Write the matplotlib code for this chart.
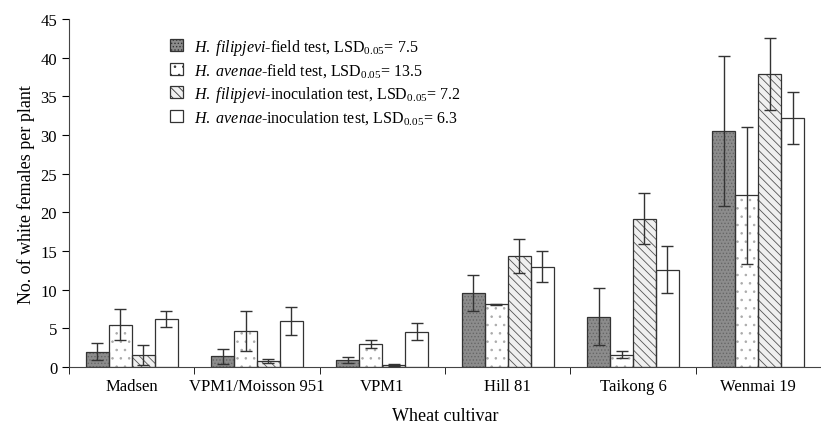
import numpy as np
import matplotlib
matplotlib.use('Agg')
import matplotlib.pyplot as plt
from matplotlib.patches import Patch

plt.rcParams['font.family'] = ['Liberation Serif', 'DejaVu Serif']
plt.rcParams['mathtext.fontset'] = 'custom'
plt.rcParams['mathtext.rm'] = 'Liberation Serif'
plt.rcParams['mathtext.it'] = 'Liberation Serif:italic'
plt.rcParams['hatch.linewidth'] = 0.6

cultivars = ["Madsen", "VPM1/Moisson 951", "VPM1", "Hill 81", "Taikong 6", "Wenmai 19"]

hf_field = [2.0, 1.4, 0.9, 9.6, 6.5, 30.5]
hf_field_err = [1.1, 1.0, 0.4, 2.3, 3.7, 9.7]
ha_field = [5.5, 4.7, 3.0, 8.1, 1.6, 22.2]
ha_field_err = [2.0, 2.6, 0.55, 0.1, 0.45, 8.9]
hf_inoc = [1.6, 0.8, 0.3, 14.4, 19.2, 37.9]
hf_inoc_err = [1.3, 0.25, 0.1, 2.2, 3.3, 4.7]
ha_inoc = [6.2, 6.0, 4.6, 13.0, 12.6, 32.2]
ha_inoc_err = [1.0, 1.8, 1.1, 2.0, 3.0, 3.4]

labels = [
    r"$\mathit{H.\ filipjevi}$-field test, LSD$_{0.05}$= 7.5",
    r"$\mathit{H.\ avenae}$-field test, LSD$_{0.05}$= 13.5",
    r"$\mathit{H.\ filipjevi}$-inoculation test, LSD$_{0.05}$= 7.2",
    r"$\mathit{H.\ avenae}$-inoculation test, LSD$_{0.05}$= 6.3",
]

# (values, errors, face colour, hatch, hatch colour)
series = [
    (hf_field, hf_field_err, '#8c8c8c', '.....', '#666666'),
    (ha_field, ha_field_err, 'white', '..', '#aaaaaa'),
    (hf_inoc, hf_inoc_err, '#f0f0f0', '\\\\\\\\', '#555555'),
    (ha_inoc, ha_inoc_err, 'white', '', 'white'),
]

fig = plt.figure(figsize=(8.21, 4.27), dpi=100)
ax = fig.add_axes([0.084, 0.138, 0.916, 0.815])

x = np.arange(len(cultivars))
w = 0.183
for i, (vals, err, fc, hatch, hc) in enumerate(series):
    pos = x + (i - 1.5) * w
    # hatch layer in its own colour, then the outline on top
    ax.bar(pos, vals, w, color=fc, edgecolor=hc, hatch=hatch, linewidth=0, zorder=2)
    ax.bar(pos, vals, w, fill=False, edgecolor='#333333', linewidth=0.9, zorder=2.5)
    ax.errorbar(pos, vals, yerr=err, fmt='none', ecolor='#333333',
                elinewidth=1.0, capsize=4, capthick=1.0, zorder=3)

handles = [Patch(facecolor=s[2], edgecolor='#333333', hatch=s[3], linewidth=0.9)
           for s in series]

ax.set_xlim(-0.5, 5.43)
ax.set_ylim(0, 45)
ax.set_yticks(range(0, 46, 5))
ax.set_xticks(x)
ax.set_xticklabels(cultivars, fontsize=12)
ax.set_xticks(np.arange(-0.5, 6, 1), minor=True)
ax.tick_params(axis='x', which='major', length=0, pad=8)
ax.tick_params(axis='x', which='minor', length=5, direction='out')
ax.tick_params(axis='y', labelsize=12, length=5)
for s in ['top', 'right']:
    ax.spines[s].set_visible(False)
ax.spines['left'].set_color('#444444')
ax.spines['bottom'].set_color('#444444')

ax.set_ylabel("No. of white females per plant", fontsize=13)
ax.set_xlabel("Wheat cultivar", fontsize=13, labelpad=9)

ax.legend(handles, labels, loc='upper left', bbox_to_anchor=(0.115, 0.99), frameon=False,
          fontsize=11.5, handlelength=0.8, handleheight=0.8, labelspacing=0.28,
          handletextpad=0.7)

fig.savefig("out.png", dpi=100)
